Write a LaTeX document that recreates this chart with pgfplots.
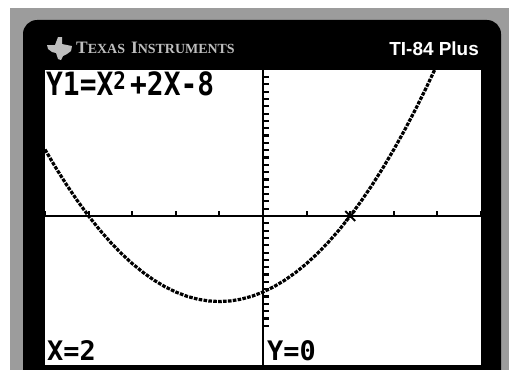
\documentclass[border=0pt]{standalone}
\usepackage{fontspec}
\setmainfont{Liberation Sans}
\newfontfamily\lcd{DejaVu Sans Mono}
\newfontfamily\brand{Liberation Serif}
\usepackage{pgfplots}
\pgfplotsset{compat=1.18}
\definecolor{casegray}{HTML}{9C9C9C}
\definecolor{brandgray}{HTML}{BEBEBE}

\begin{document}
\begin{tikzpicture}[x=1bp,y=1bp]
\useasboundingbox (0,0) rectangle (509,369);
\clip (0,0) rectangle (509,369);
\fill[white] (0,0) rectangle (509,369);
% calculator case and bezel
\fill[casegray] (10,-5) rectangle (515,361);
\fill[black, rounded corners=14bp] (23,-30) rectangle (501,349);
% screen
\fill[white] (45,4) rectangle (481,299);

% brand strip
\fill[brandgray] (58,332) -- (62,332) -- (62,325) -- (67,324) -- (72,323) -- (71,318)
  -- (67,315) -- (63,313) -- (61,309) -- (58,310) -- (56,316) -- (52,317)
  -- (48,320) -- (47,324) -- (55,324) -- cycle;
\node[anchor=base west, inner sep=0, text=brandgray, font=\brand\bfseries] at (76,316)
  {\fontsize{17.5}{17.5}\selectfont T\fontsize{14}{14}\selectfont EXAS\hspace{6bp}\fontsize{17.5}{17.5}\selectfont I\fontsize{14}{14}\selectfont NSTRUMENTS};
\node[anchor=base east, inner sep=0, text=white, font=\bfseries\fontsize{19}{19}\selectfont] at (479,314) {TI-84 Plus};

\begin{axis}[
  at={(45bp,4bp)}, anchor=south west,
  width=436bp, height=295bp, scale only axis,
  xmin=-5, xmax=5, ymin=-15.68, ymax=15.37,
  axis lines=middle,
  axis line style={-, line width=2.6bp, black},
  xtick={-5,-4,...,5},
  ytick={-11.55,-10.78,...,15.0},
  xticklabels={}, yticklabels={},
  tick align=center,
  major tick length=6bp,
  xtick style={line width=2bp, black, yshift=2.5bp},
  ytick style={line width=2.2bp, black, xshift=2.5bp},
  clip=true,
]
% Y1 = X^2 + 2X - 8
\addplot[black, line width=3.2bp, dash pattern=on 3.6bp off 1.3bp] coordinates {
  (-5,7) (-4.75,5.0625) (-4.5,3.25) (-4.25,1.5625) (-4,0)
  (-3.75,-1.4375) (-3.5,-2.75) (-3.25,-3.9375) (-3,-5)
  (-2.75,-5.9375) (-2.5,-6.75) (-2.25,-7.4375) (-2,-8)
  (-1.75,-8.4375) (-1.5,-8.75) (-1.25,-8.9375) (-1,-9)
  (-0.75,-8.9375) (-0.5,-8.75) (-0.25,-8.4375) (0,-8)
  (0.25,-7.4375) (0.5,-6.75) (0.75,-5.9375) (1,-5)
  (1.25,-3.9375) (1.5,-2.75) (1.75,-1.4375) (2,0)
  (2.25,1.5625) (2.5,3.25) (2.75,5.0625) (3,7)
  (3.25,9.0625) (3.5,11.25) (3.75,13.5625) (4,16) (4.25,18.5625)
};
% trace cursor
\addplot[only marks, mark=x, mark size=7bp, mark options={line width=2bp, black}] coordinates {(2,0)};
\end{axis}

% screen text
\node[anchor=base west, inner sep=0, font=\lcd\bfseries\fontsize{28}{28}\selectfont] at (46,274)
  {\scalebox{1}[1.15]{Y1=X\makebox[0.602em][l]{\raisebox{5bp}{\fontsize{21}{21}\selectfont 2}}+2X-8}};
\node[anchor=base west, inner sep=0, font=\lcd\bfseries\fontsize{27}{27}\selectfont] at (47,9) {X=2};
\node[anchor=base west, inner sep=0, font=\lcd\bfseries\fontsize{27}{27}\selectfont] at (267,9) {Y=0};
\end{tikzpicture}
\end{document}
